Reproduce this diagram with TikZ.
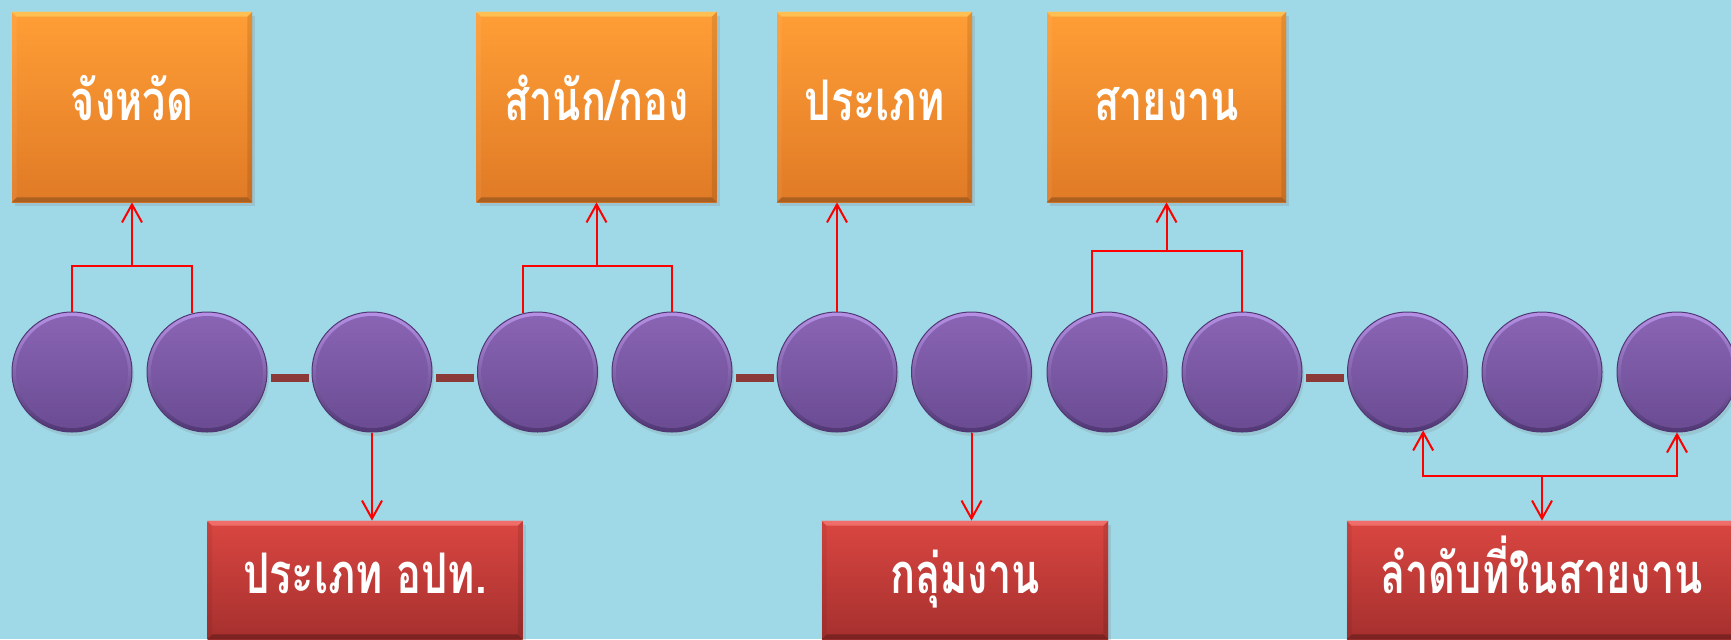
\documentclass[tikz,border=0pt]{standalone}
\usepackage{fontspec}
\newfontfamily\thaifont[Script=Thai, FakeStretch=0.74]{Loma}
\usetikzlibrary{arrows.meta,shadows,calc}

\definecolor{bg}{RGB}{159,217,232}
\definecolor{orT}{RGB}{255,158,54}
\definecolor{orB}{RGB}{224,122,38}
\definecolor{orL}{RGB}{255,200,90}
\definecolor{orD}{RGB}{150,85,30}
\definecolor{rdT}{RGB}{218,70,65}
\definecolor{rdB}{RGB}{165,48,46}
\definecolor{rdL}{RGB}{245,120,115}
\definecolor{puT}{RGB}{138,101,181}
\definecolor{puB}{RGB}{106,75,146}
\definecolor{puL}{RGB}{182,145,230}
\definecolor{puD}{RGB}{80,55,115}
\definecolor{barc}{RGB}{140,58,55}
\definecolor{connc}{RGB}{255,0,0}

\newcommand{\mybevel}[6]{%
  \fill[#3] (#1.north west) -- (#1.north east) -- ([shift={(-#2,-#2)}]#1.north east) -- ([shift={(#2,-#2)}]#1.north west) -- cycle;
  \fill[#4] (#1.south west) -- (#1.south east) -- ([shift={(-#2,#2)}]#1.south east) -- ([shift={(#2,#2)}]#1.south west) -- cycle;
  \fill[#5] (#1.north west) -- ([shift={(#2,-#2)}]#1.north west) -- ([shift={(#2,#2)}]#1.south west) -- (#1.south west) -- cycle;
  \fill[#6] (#1.north east) -- ([shift={(-#2,-#2)}]#1.north east) -- ([shift={(-#2,#2)}]#1.south east) -- (#1.south east) -- cycle;
}

\tikzset{
  lbl/.style={text=white, font=\thaifont\bfseries\fontsize{28}{30}\selectfont, text height=15pt, text depth=2pt},
  obox/.style={rectangle, inner sep=0pt, top color=orT, bottom color=orB, lbl,
    minimum height=95pt,
    drop shadow={shadow xshift=1.5pt, shadow yshift=-2pt, opacity=0.22}},
  rbox/.style={rectangle, inner sep=0pt, top color=rdT, bottom color=rdB, lbl,
    minimum height=59pt,
    drop shadow={shadow xshift=1.5pt, shadow yshift=-2pt, opacity=0.22}},
  knob/.style={circle, minimum size=60pt, inner sep=0pt, top color=puL, bottom color=puD,
    draw=puD, line width=0.5pt,
    path picture={\shade[top color=puT, bottom color=puB] (path picture bounding box.center) circle [radius=28pt];},
    drop shadow={shadow xshift=1pt, shadow yshift=-2pt, opacity=0.2}},
  conn/.style={draw=connc, line width=1pt},
  >={Straight Barb[length=9pt,width=10pt]}
}

\begin{document}
\begin{tikzpicture}[x=0.5pt, y=-0.5pt]
\useasboundingbox (0,0) rectangle (1731,639);
\clip (0,0) rectangle (1731,639);
\fill[bg] (0,0) rectangle (1731,639);

% top orange boxes
\node[obox, minimum width=120pt] (b1) at (132,107) {จังหวัด};
\node[obox, minimum width=120pt] (b2) at (596.5,107) {สำนัก/กอง};
\node[obox, minimum width=97.5pt] (b3) at (874.5,107) {ประเภท};
\node[obox, minimum width=119.5pt] (b4) at (1166.5,107) {สายงาน};

% bottom red boxes
\node[rbox, minimum width=157.5pt] (r1) at (365,580) {ประเภท อปท.};
\node[rbox, minimum width=143pt] (r2) at (965,580) {กลุ่มงาน};
\node[rbox, minimum width=194.5pt] (r3) at (1541.5,580) {ลำดับที่ในสายงาน};

\foreach \n in {b1,b2,b3,b4}{
  \mybevel{\n}{2.5pt}{fill=orL,fill opacity=.8}{fill=orD,fill opacity=.7}{fill=white,fill opacity=.06}{fill=black,fill opacity=.1}
}
\foreach \n in {r1,r2,r3}{
  \mybevel{\n}{2.5pt}{fill=rdL,fill opacity=.8}{fill=black,fill opacity=.25}{fill=black,fill opacity=.06}{fill=black,fill opacity=.1}
}

% circles
\foreach \i/\x in {1/72,2/207,3/372,4/537.5,5/672,6/837,7/971.5,8/1107,9/1242,10/1407.5,11/1542,12/1677}
  \node[knob] (c\i) at (\x,372) {};

% bars
\foreach \a/\b in {2/3,3/4,5/6,9/10}
  \fill[barc] ([shift={(1.5pt,-1pt)}]c\a.east) rectangle ([shift={(-1.5pt,-5pt)}]c\b.west);

% connectors
\coordinate (j1) at (132,265.7);
\draw[conn] (c1.north) |- (j1) -| (c2.104);
\draw[conn,->] (j1) -- (j1 |- b1.south);

\coordinate (j2) at (596.5,265.7);
\draw[conn] (c4.104) |- (j2) -| (c5.north);
\draw[conn,->] (j2) -- (j2 |- b2.south);

\draw[conn,->] (c6.north) -- (c6.north |- b3.south);

\coordinate (j4) at (1166.5,250.7);
\draw[conn] (c8.104) |- (j4) -| (c9.north);
\draw[conn,->] (j4) -- (j4 |- b4.south);

\draw[conn,->] (c3.south) -- (c3.south |- r1.north);
\draw[conn,->] (c7.south) -- (c7.south |- r2.north);

\coordinate (j5) at (1542,476);
\draw[conn,<->] (c10.-75.5) |- (j5) -| (c12.south);
\draw[conn,->] (j5) -- (j5 |- r3.north);
\end{tikzpicture}
\end{document}
